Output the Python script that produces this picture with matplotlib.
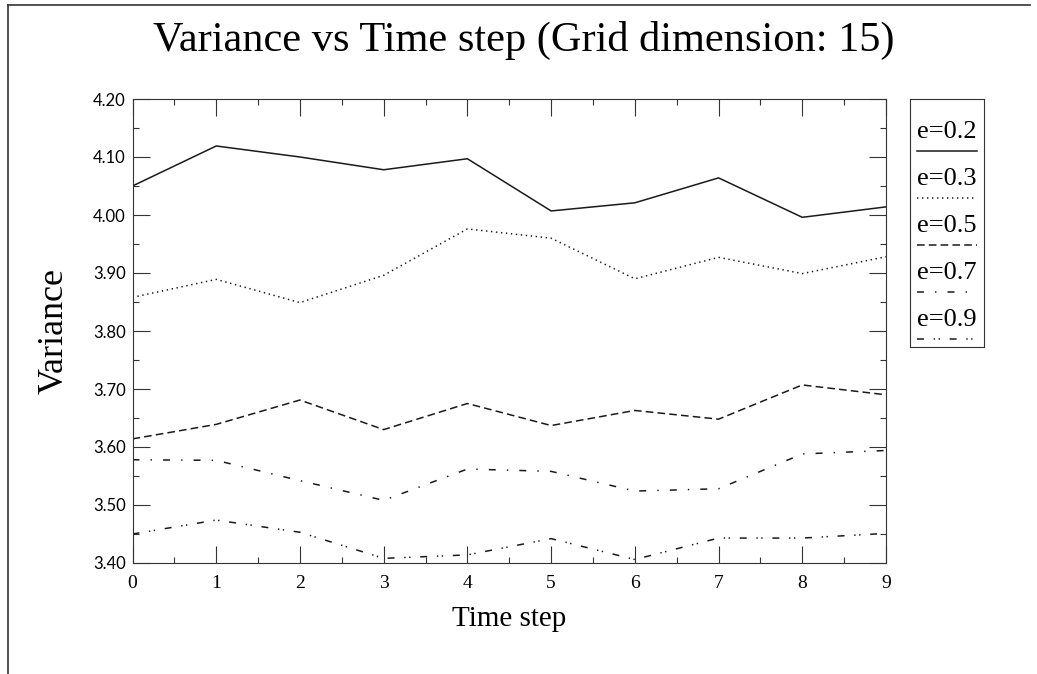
import numpy as np
import matplotlib.pyplot as plt
from matplotlib.ticker import MultipleLocator, FormatStrFormatter

plt.rcParams['lines.scale_dashes'] = False

# data
steps = np.arange(10)
labels = ['e=0.2', 'e=0.3', 'e=0.5', 'e=0.7', 'e=0.9']
var_02 = [4.050, 4.119, 4.100, 4.078, 4.097, 4.007, 4.021, 4.064, 3.996, 4.014]
var_03 = [3.858, 3.889, 3.849, 3.896, 3.976, 3.960, 3.890, 3.927, 3.899, 3.928]
var_05 = [3.614, 3.639, 3.681, 3.630, 3.675, 3.637, 3.663, 3.648, 3.707, 3.690]
var_07 = [3.578, 3.577, 3.542, 3.508, 3.562, 3.558, 3.524, 3.528, 3.588, 3.594]
var_09 = [3.450, 3.474, 3.453, 3.408, 3.414, 3.442, 3.406, 3.443, 3.443, 3.451]
series = [var_02, var_03, var_05, var_07, var_09]

styles = ['-', (0, (1.0, 2.6)), (0, (5.5, 3.0)),
          (0, (5.0, 8.0, 1.0, 8.0)), (0, (5.0, 7.0, 1.0, 2.5, 1.0, 7.0))]
ink = '#1a1a1a'
edge = '#333333'
serif = 'Liberation Serif'

W, H = 1037, 674
fig = plt.figure(figsize=(W / 100, H / 100), dpi=100)
ax = fig.add_axes([132.5 / W, 1 - 563 / H, (886 - 132.5) / W, (563 - 99) / H])

for vals, ls in zip(series, styles):
    ax.plot(steps, vals, color=ink, lw=1.1, linestyle=ls)

ax.set_xlim(0, 9)
ax.set_ylim(3.40, 4.20)
ax.xaxis.set_major_locator(MultipleLocator(1))
ax.xaxis.set_minor_locator(MultipleLocator(0.5))
ax.yaxis.set_major_locator(MultipleLocator(0.1))
ax.yaxis.set_minor_locator(MultipleLocator(0.05))
ax.yaxis.set_major_formatter(FormatStrFormatter('%.2f'))
ax.tick_params(which='both', direction='in', top=True, right=True,
               color=edge, width=0.8)
ax.tick_params(which='major', length=12)
ax.tick_params(which='minor', length=4)
ax.tick_params(axis='y', pad=5)
ax.tick_params(axis='x', pad=9)
for lab in ax.get_yticklabels():
    lab.set_fontfamily('Lato')
    lab.set_fontsize(12)
for lab in ax.get_xticklabels():
    lab.set_fontfamily(serif)
    lab.set_fontsize(14)
for sp in ax.spines.values():
    sp.set_linewidth(0.8)
    sp.set_color(edge)

ax.set_xlabel('Time step', family=serif, fontsize=21, labelpad=10)
ax.set_ylabel('Variance', family=serif, fontsize=26, labelpad=16)
fig.text(0.505, 1 - 40 / H, 'Variance vs Time step (Grid dimension: 15)',
         family=serif, fontsize=30.5, ha='center', va='center')

# legend: label above a line sample, in its own box
box_top, box_bot = 99, 347
bh = box_bot - box_top
lax = fig.add_axes([910 / W, 1 - box_bot / H, 74 / W, bh / H])
lax.set_xlim(0, 1)
lax.set_ylim(0, 1)
lax.set_xticks([])
lax.set_yticks([])
for sp in lax.spines.values():
    sp.set_linewidth(0.8)
    sp.set_color(edge)
for i, (lbl, ls) in enumerate(zip(labels, styles)):
    ty = 1 - (33 + 47 * i) / bh
    ly = ty - 19 / bh
    lax.text(0.5, ty, lbl, family=serif, fontsize=19, ha='center', va='center')
    lax.plot([0.1, 0.9], [ly, ly], color=ink, lw=1.1, linestyle=ls)

# outer frame of the page
fig.add_artist(plt.Line2D([8 / W, 8 / W], [0, 1 - 5 / H],
                          transform=fig.transFigure, color=edge, lw=1.2))
fig.add_artist(plt.Line2D([8 / W, 1030 / W], [1 - 5 / H, 1 - 5 / H],
                          transform=fig.transFigure, color=edge, lw=1.2))

fig.savefig('out.png', dpi=100)
